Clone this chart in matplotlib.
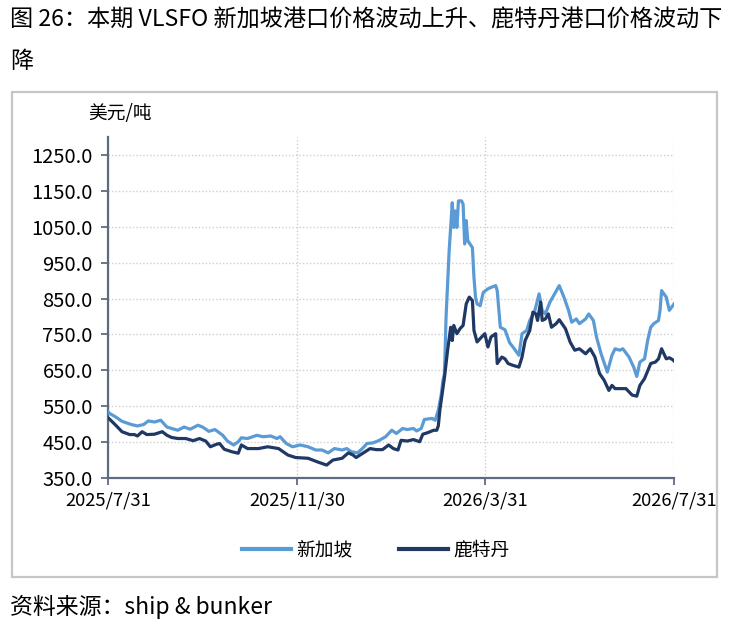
import matplotlib
matplotlib.use("Agg")
import matplotlib.pyplot as plt
import numpy as np
import pandas as pd
from matplotlib.patches import Rectangle

plt.rcParams['font.family'] = ['Noto Sans CJK SC', 'DejaVu Sans']

# ---- data ----
start_date = "2025-07-31"
tick_dates = ["2025-07-31", "2025-11-30", "2026-03-31", "2026-07-31"]
tick_labels = ["2025/7/31", "2025/11/30", "2026/3/31", "2026/7/31"]
y_ticks = [350, 450, 550, 650, 750, 850, 950, 1050, 1150, 1250]

sg_days = [0, 1, 5, 9, 15, 19, 23, 26, 30, 34, 38, 41, 45, 49, 53, 58, 61, 65, 69, 74,
           77, 81, 84, 86, 90, 96, 100, 105, 109, 111, 115, 119, 124, 129, 134, 138,
           142, 146, 151, 154, 157, 161, 164, 167, 171, 175, 179, 183, 186, 190, 193,
           197, 199, 202, 204, 209, 211, 213, 215, 216, 217, 218, 220, 222, 223, 224,
           225, 226, 228, 229, 230, 231, 232, 235, 236, 237, 238, 240, 242, 245, 247,
           250, 251, 253, 256, 259, 262, 265, 267, 270, 272, 275, 278, 280, 282, 285,
           288, 291, 294, 297, 299, 302, 304, 308, 310, 313, 315, 318, 322, 325, 327,
           330, 332, 336, 339, 341, 343, 346, 348, 350, 352, 355, 356, 357, 360, 362,
           365]
sg_vals = [535, 530, 520, 508, 499, 495, 499, 509, 506, 511, 492, 488, 483, 492, 486,
           497, 492, 480, 485, 469, 453, 442, 451, 462, 460, 469, 465, 467, 460, 465,
           446, 437, 442, 437, 428, 428, 420, 432, 428, 432, 423, 420, 432, 446, 448,
           455, 465, 483, 474, 488, 485, 488, 481, 488, 513, 516, 511, 539, 585, 622,
           641, 798, 983, 1117, 1048, 1094, 1048, 1122, 1122, 1113, 1002, 1067, 1011,
           992, 909, 854, 835, 830, 867, 877, 881, 886, 872, 770, 763, 727, 710, 692,
           752, 761, 789, 812, 863, 817, 807, 840, 863, 886, 854, 817, 784, 793, 780,
           793, 807, 789, 743, 696, 645, 692, 710, 706, 710, 687, 659, 633, 673, 682,
           733, 770, 780, 789, 817, 872, 854, 817, 835]

rt_days = [0, 1, 5, 9, 14, 17, 19, 22, 25, 30, 35, 38, 41, 45, 50, 55, 59, 63, 66, 70,
           72, 75, 80, 84, 86, 90, 97, 103, 110, 113, 116, 121, 129, 135, 141, 145,
           151, 155, 158, 160, 164, 169, 173, 177, 181, 184, 187, 189, 193, 197, 201,
           203, 206, 210, 212, 213, 214, 217, 219, 221, 222, 223, 225, 227, 229, 231,
           233, 235, 236, 238, 241, 243, 245, 247, 250, 251, 254, 256, 258, 261, 265,
           267, 269, 272, 274, 276, 277, 279, 280, 282, 284, 286, 289, 291, 295, 298,
           301, 304, 308, 311, 314, 317, 320, 323, 325, 327, 330, 334, 338, 341, 343,
           346, 350, 353, 355, 357, 360, 362, 364, 365]
rt_vals = [518, 514, 497, 479, 471, 471, 467, 479, 471, 472, 479, 469, 463, 460, 460,
           454, 460, 453, 437, 444, 446, 430, 423, 419, 442, 432, 432, 437, 432, 423,
           414, 407, 405, 395, 386, 400, 405, 420, 414, 407, 418, 432, 429, 429, 442,
           432, 428, 455, 453, 457, 451, 472, 476, 483, 483, 495, 539, 631, 706, 770,
           733, 775, 752, 766, 775, 835, 854, 844, 761, 729, 743, 752, 715, 743, 752,
           669, 687, 682, 669, 664, 659, 687, 733, 761, 812, 807, 789, 840, 789, 793,
           807, 770, 780, 791, 766, 729, 706, 710, 696, 710, 687, 641, 622, 594, 608,
           599, 599, 599, 581, 578, 608, 627, 669, 673, 682, 710, 682, 685, 680, 676]

series_names = ["新加坡", "鹿特丹"]
series_colors = ["#5B9BD5", "#1F3864"]

# ---- figure ----
W, H = 732, 622
fig = plt.figure(figsize=(W / 100, H / 100), dpi=100)

def fx(px):
    return px / W

def fy(py):
    return 1 - py / H

# outer frame
fig.patches.append(Rectangle((fx(12), fy(577)), fx(717) - fx(12), fy(92) - fy(577),
                             transform=fig.transFigure, fill=False,
                             edgecolor="#c6c6c6", linewidth=1.6, zorder=0))

ax = fig.add_axes([fx(108), fy(478), fx(674) - fx(108), fy(137) - fy(478)])

t0 = pd.Timestamp(start_date)
sg_dates = t0 + pd.to_timedelta(sg_days, unit="D")
rt_dates = t0 + pd.to_timedelta(rt_days, unit="D")

ax.plot(sg_dates, sg_vals, color=series_colors[0], lw=2.3, label=series_names[0],
        solid_joinstyle="round", zorder=3)
ax.plot(rt_dates, rt_vals, color=series_colors[1], lw=2.3, label=series_names[1],
        solid_joinstyle="round", zorder=4)

tds = pd.to_datetime(tick_dates)
ax.set_xlim(tds[0], tds[-1])
ax.set_ylim(350, 1300)
ax.set_xticks(tds)
ax.set_xticklabels(tick_labels, fontsize=13.3)
ax.set_yticks(y_ticks)
ax.set_yticklabels([f"{v:.1f}" for v in y_ticks], fontsize=14.5)

ax.grid(True, linestyle=(0, (1, 1.5)), color="#cfcfcf", linewidth=1.0)
ax.set_axisbelow(True)
for s in ["top", "right"]:
    ax.spines[s].set_visible(False)
spine_col = "#5d6c80"
for s in ["left", "bottom"]:
    ax.spines[s].set_color(spine_col)
    ax.spines[s].set_linewidth(1.6)
ax.tick_params(axis="both", colors=spine_col, labelcolor="black", width=1.3,
               length=5, direction="out")
ax.tick_params(axis="y", pad=6)
ax.tick_params(axis="x", pad=5)

fig.text(fx(120), fy(113), "美元/吨", fontsize=13.5, ha="center", va="center")

# title
fig.text(fx(10), fy(20), "图 26：本期 VLSFO 新加坡港口价格波动上升、鹿特丹港口价格波动下",
         fontsize=16.7, ha="left", va="center")
fig.text(fx(10), fy(62), "降", fontsize=16.7, ha="left", va="center")

# source
fig.text(fx(10), fy(607), "资料来源：ship & bunker", fontsize=16.5, ha="left", va="center")

leg = fig.legend(*ax.get_legend_handles_labels(), loc="center",
                 bbox_to_anchor=(fx(376), fy(550)), ncol=2, frameon=False,
                 fontsize=13.5, handlelength=2.6, handletextpad=0.3,
                 columnspacing=2.5)
for ln in leg.get_lines():
    ln.set_linewidth(3)

fig.savefig("out.png", dpi=100)
